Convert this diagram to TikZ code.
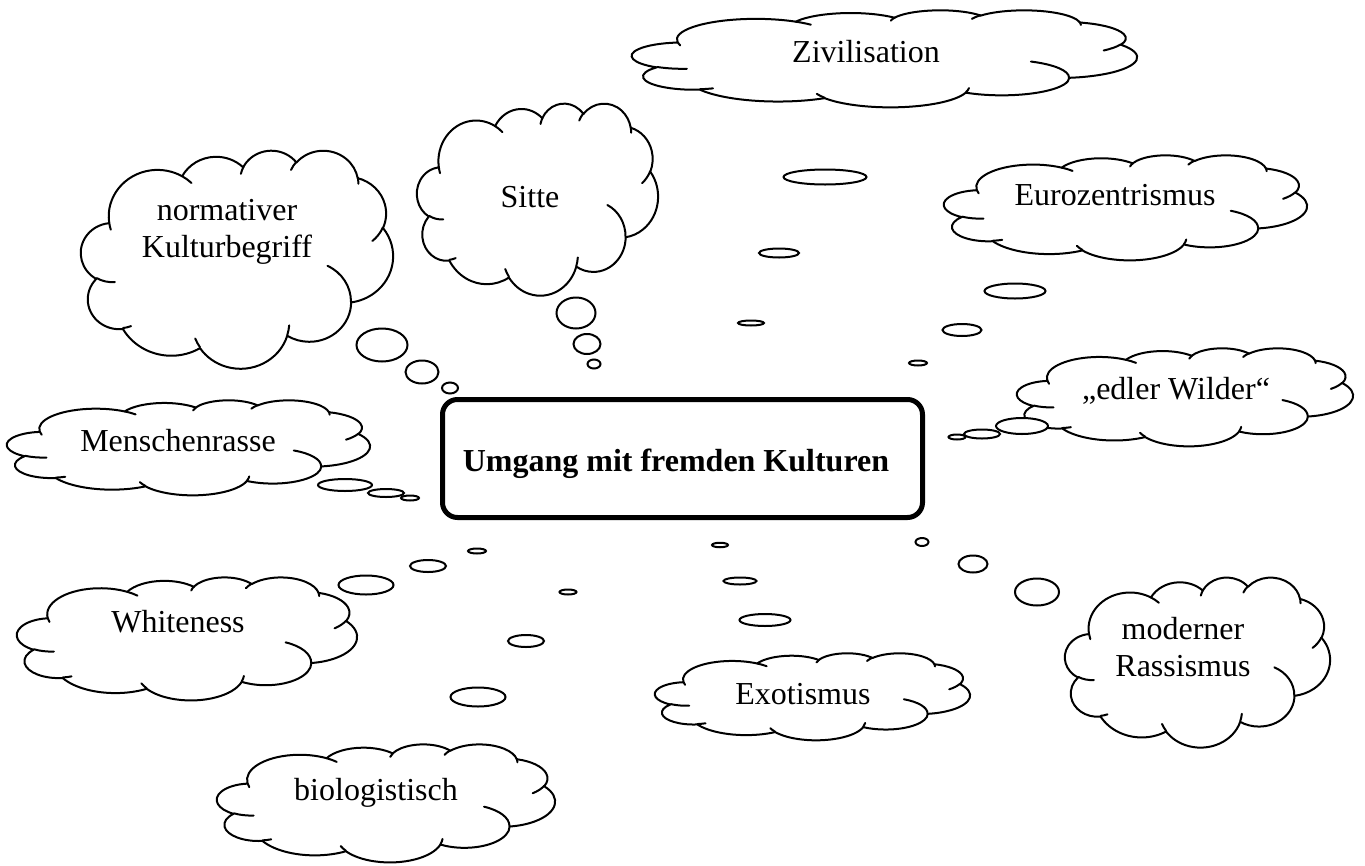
\documentclass[tikz,border=0pt]{standalone}
\usepackage{fontspec}
\setmainfont{Liberation Serif}
\usetikzlibrary{shapes.geometric}

% Convert an OOXML arcTo (visual angles) into a TikZ arc (parametric angles)
\newcommand{\prepArc}[5]{%
  \pgfmathsetmacro{\clTa}{atan2((#2)*sin(#4),(#3)*cos(#4))}%
  \pgfmathsetmacro{\clTb}{atan2((#2)*sin(#4+#5),(#3)*cos(#4+#5))}%
  \pgfmathsetmacro{\clTd}{\clTb-\clTa}%
  \pgfmathsetmacro{\clTd}{\clTd+360*round(((#5)-\clTd)/360)}%
  \pgfmathsetmacro{\clTx}{(#2)/432}%
  \pgfmathsetmacro{\clTy}{(#3)/432}%
  \expandafter\xdef\csname cls#1\endcsname{\clTa}%
  \expandafter\xdef\csname cld#1\endcsname{\clTd}%
  \expandafter\xdef\csname clx#1\endcsname{\clTx}%
  \expandafter\xdef\csname cly#1\endcsname{\clTy}%
}
\prepArc{A}{6753}{9190}{-190.4874833}{123.7805333}
\prepArc{B}{5333}{7267}{-144.1023833}{89.9452333}
\prepArc{C}{4365}{5945}{-145.8079167}{99.7230167}
\prepArc{D}{4857}{6595}{-130.9860667}{117.2417333}
\prepArc{E}{5333}{7273}{-78.7088833}{109.0269167}
\prepArc{F}{6775}{9220}{-46.26725}{130.269}
\prepArc{G}{5785}{7867}{0.6250167}{114.0333333}
\prepArc{H}{6752}{9215}{22.4516}{115.17255}
\prepArc{I}{7720}{10543}{66.2426333}{75.7110167}
\prepArc{J}{4360}{5918}{-274.9420833}{146.7355667}
\prepArc{K}{4345}{5945}{-246.8285}{152.51885}
\prepArc{a}{4345}{5945}{86.742}{26.4295}
\prepArc{b}{4360}{5918}{73.6104667}{11.4474667}
\prepArc{c}{6752}{9215}{137.62415}{14.0811}
\prepArc{d}{6752}{9215}{6.4532667}{15.99835}
\prepArc{e}{5785}{7867}{-70.29235}{70.9173667}
\prepArc{f}{5333}{7273}{30.3180333}{27.7515}
\prepArc{g}{4857}{6595}{-13.7443333}{14.8589}
\prepArc{h}{4857}{6595}{-149.18145}{18.1953667}
\prepArc{i}{4365}{5945}{-163.4942667}{17.68635}
\prepArc{j}{6753}{9190}{-66.70695}{12.31935}
\prepArc{k}{6753}{9190}{157.65435}{11.8581667}

\tikzset{
  cloudline/.style={line width=2pt, draw=black, line join=round, line cap=round},
  bubble/.style={ellipse, draw=black, line width=2pt, fill=white, inner sep=0pt, outer sep=0pt},
  cloudtext/.style={font=\fontsize{32}{37}\selectfont, align=center, inner sep=0pt},
  titletext/.style={font=\fontsize{32}{37}\selectfont\bfseries, inner sep=0pt},
  titlebox/.style={draw=black, line width=5pt, rounded corners=15pt, fill=white,
    minimum width=480pt, minimum height=118pt, inner sep=0pt},
}

% Word-style cloud: #1 left, #2 top, #3 width, #4 height (pixels)
\newcommand{\wcloud}[4]{%
  \pgfmathsetmacro{\cwx}{#3/100}%
  \pgfmathsetmacro{\cwy}{#4/100}%
  \begin{scope}[shift={(#1,#2)}, x=\cwx pt, y=-\cwy pt]
    \draw[cloudline, fill=white] (9.0278,33.2639)
      arc[start angle=\clsA, delta angle=\cldA, x radius=\clxA, y radius=\clyA]
      arc[start angle=\clsB, delta angle=\cldB, x radius=\clxB, y radius=\clyB]
      arc[start angle=\clsC, delta angle=\cldC, x radius=\clxC, y radius=\clyC]
      arc[start angle=\clsD, delta angle=\cldD, x radius=\clxD, y radius=\clyD]
      arc[start angle=\clsE, delta angle=\cldE, x radius=\clxE, y radius=\clyE]
      arc[start angle=\clsF, delta angle=\cldF, x radius=\clxF, y radius=\clyF]
      arc[start angle=\clsG, delta angle=\cldG, x radius=\clxG, y radius=\clyG]
      arc[start angle=\clsH, delta angle=\cldH, x radius=\clxH, y radius=\clyH]
      arc[start angle=\clsI, delta angle=\cldI, x radius=\clxI, y radius=\clyI]
      arc[start angle=\clsJ, delta angle=\cldJ, x radius=\clxJ, y radius=\clyJ]
      arc[start angle=\clsK, delta angle=\cldK, x radius=\clxK, y radius=\clyK]
      -- cycle;
    \draw[cloudline]
      (10.8634,60.5949) arc[start angle=\clsa, delta angle=\clda, x radius=\clxa, y radius=\clya]
      (16.0370,80.7847) arc[start angle=\clsb, delta angle=\cldb, x radius=\clxb, y radius=\clyb]
      (38.1435,90.4861) arc[start angle=\clsc, delta angle=\cldc, x radius=\clxc, y radius=\clyc]
      (66.7292,80.4421) arc[start angle=\clsd, delta angle=\cldd, x radius=\clxd, y radius=\clyd]
      (79.0023,53.1343) arc[start angle=\clse, delta angle=\clde, x radius=\clxe, y radius=\clye]
      (96.7546,35.5417) arc[start angle=\clsf, delta angle=\cldf, x radius=\clxf, y radius=\clyf]
      (88.7130,12.5602) arc[start angle=\clsg, delta angle=\cldg, x radius=\clxg, y radius=\clyg]
      (67.3102,9.1481) arc[start angle=\clsh, delta angle=\cldh, x radius=\clxh, y radius=\clyh]
      (51.2523,10.9259) arc[start angle=\clsi, delta angle=\cldi, x radius=\clxi, y radius=\clyi]
      (32.4074,12.0185) arc[start angle=\clsj, delta angle=\cldj, x radius=\clxj, y radius=\clyj]
      (9.5532,36.5486) arc[start angle=\clsk, delta angle=\cldk, x radius=\clxk, y radius=\clyk];
  \end{scope}%
}

\begin{document}
\begin{tikzpicture}[x=1pt, y=-1pt]
\useasboundingbox[fill=white] (0,0) rectangle (1365,865);

% clouds
\wcloud{632}{10}{505}{97}    % Zivilisation
\wcloud{417}{103}{241}{192}  % Sitte
\wcloud{81}{150}{312}{218}   % normativer Kulturbegriff
\wcloud{944}{155}{363}{105}  % Eurozentrismus
\wcloud{1017}{348}{336}{98}  % edler Wilder
\wcloud{7}{400}{363}{95}     % Menschenrasse
\wcloud{17}{577}{340}{123}   % Whiteness
\wcloud{655}{653}{315}{87}   % Exotismus
\wcloud{217}{744}{338}{118}  % biologistisch
\wcloud{1065}{577}{265}{170} % moderner Rassismus

% thought bubbles
\node[bubble, minimum width=83pt, minimum height=15pt] (z1) at (825,177) {};
\node[bubble, minimum width=40pt, minimum height=9pt]  (z2) at (779,253) {};
\node[bubble, minimum width=26pt, minimum height=5pt]  (z3) at (751,323) {};

\node[bubble, minimum width=61pt, minimum height=15pt] (e1) at (1015,291) {};
\node[bubble, minimum width=39pt, minimum height=12pt] (e2) at (962,330) {};
\node[bubble, minimum width=18pt, minimum height=5pt]  (e3) at (918,363) {};

\node[bubble, minimum width=52pt, minimum height=16pt] (w1) at (1022,426) {};
\node[bubble, minimum width=36pt, minimum height=9pt]  (w2) at (982,434) {};
\node[bubble, minimum width=17pt, minimum height=5pt]  (w3) at (957,437) {};

\node[bubble, minimum width=44pt, minimum height=27pt] (m1) at (1037,592) {};
\node[bubble, minimum width=29pt, minimum height=17pt] (m2) at (973,564) {};
\node[bubble, minimum width=13pt, minimum height=8pt]  (m3) at (922,542) {};

\node[bubble, minimum width=51pt, minimum height=12pt] (x1) at (765,620) {};
\node[bubble, minimum width=33pt, minimum height=7pt]  (x2) at (740,581) {};
\node[bubble, minimum width=16pt, minimum height=4.5pt](x3) at (720,545) {};

\node[bubble, minimum width=55pt, minimum height=19pt] (b1) at (478,697) {};
\node[bubble, minimum width=36pt, minimum height=12pt] (b2) at (526,641) {};
\node[bubble, minimum width=17pt, minimum height=5pt]  (b3) at (568,592) {};

\node[bubble, minimum width=55pt, minimum height=19pt] (h1) at (366,585) {};
\node[bubble, minimum width=36pt, minimum height=12pt] (h2) at (428,566) {};
\node[bubble, minimum width=18pt, minimum height=5pt]  (h3) at (477,551) {};

\node[bubble, minimum width=54pt, minimum height=12pt] (r1) at (345,485) {};
\node[bubble, minimum width=36pt, minimum height=8pt]  (r2) at (386,493) {};
\node[bubble, minimum width=18pt, minimum height=5pt]  (r3) at (410,498) {};

\node[bubble, minimum width=51pt, minimum height=33pt] (n1) at (382,345) {};
\node[bubble, minimum width=33pt, minimum height=23pt] (n2) at (422,372) {};
\node[bubble, minimum width=16pt, minimum height=11pt] (n3) at (450,388) {};

\node[bubble, minimum width=39pt, minimum height=31pt] (s1) at (576,313) {};
\node[bubble, minimum width=27pt, minimum height=20pt] (s2) at (587,344) {};
\node[bubble, minimum width=13pt, minimum height=9pt]  (s3) at (594,364) {};

% central box
\node[titlebox] (box) at (682.5,458.5) {};
\node[titletext, anchor=base] (title) at (676,471) {Umgang mit fremden Kulturen};

% cloud texts
\node[cloudtext, anchor=base] (tZiv)    at (866,62)   {Zivilisation};
\node[cloudtext, anchor=base] (tSitte)  at (530,207)  {Sitte};
\node[cloudtext]              (tNorm)   at (227,232)  {normativer\\Kulturbegriff};
\node[cloudtext, anchor=base] (tEuro)   at (1115,205) {Eurozentrismus};
\node[cloudtext, anchor=base] (tEdler)  at (1176,399) {„edler Wilder“};
\node[cloudtext, anchor=base] (tMensch) at (178,451)  {Menschenrasse};
\node[cloudtext, anchor=base] (tWhite)  at (178,632)  {Whiteness};
\node[cloudtext, anchor=base] (tExo)    at (803,704)  {Exotismus};
\node[cloudtext, anchor=base] (tBio)    at (376,800)  {biologistisch};
\node[cloudtext]              (tMod)    at (1183,647) {moderner\\Rassismus};
\end{tikzpicture}
\end{document}
